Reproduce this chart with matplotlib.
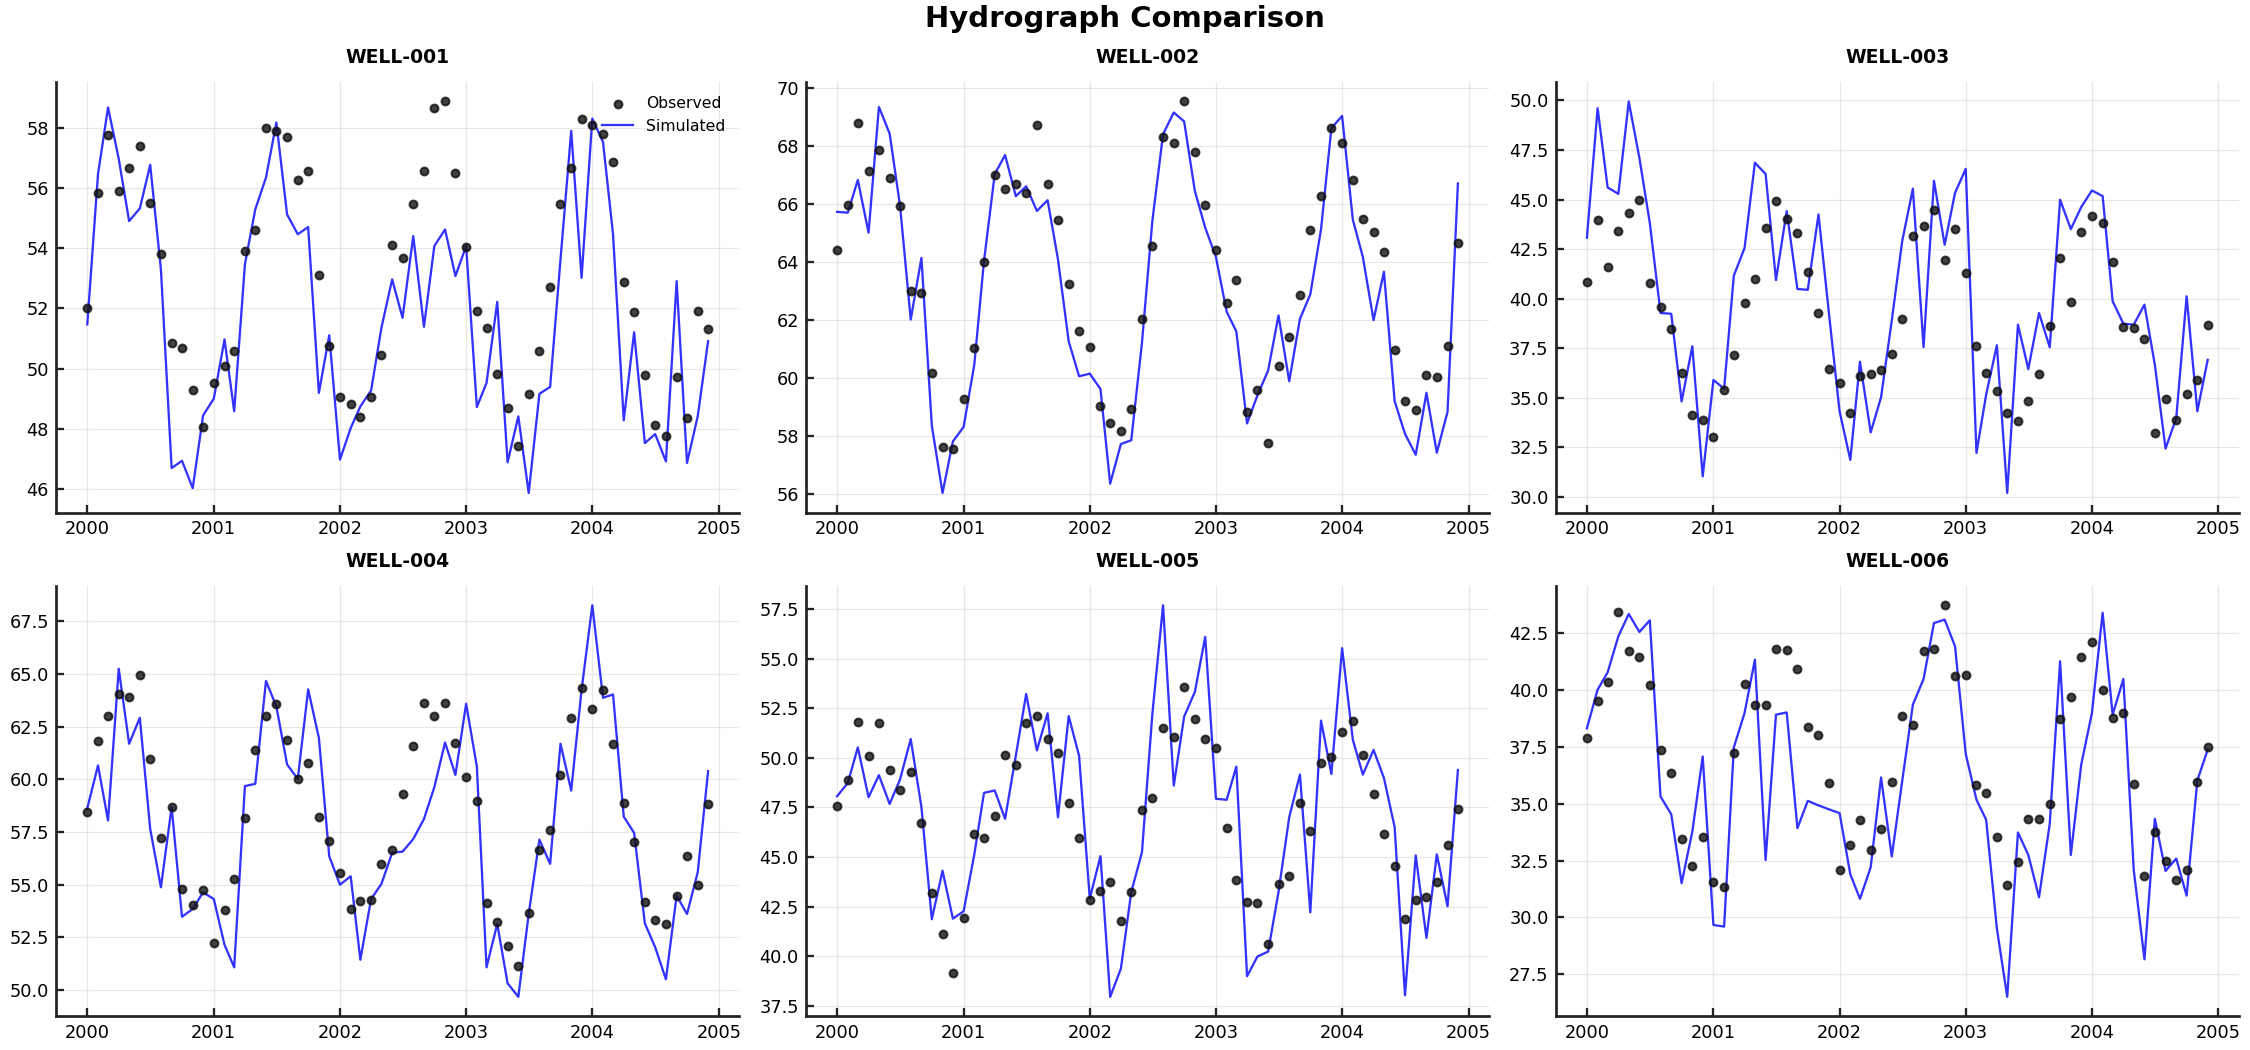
"""
Hydrograph comparison: observed vs simulated heads for six wells, monthly 2000-2004.
"""
import numpy as np
import pandas as pd
import matplotlib
matplotlib.use('Agg')
import matplotlib.pyplot as plt
import matplotlib.dates as mdates

WELLS = ['WELL-001', 'WELL-002', 'WELL-003', 'WELL-004', 'WELL-005', 'WELL-006']
DATES = pd.date_range('2000-01-01', periods=60, freq='MS')

OBS_001 = [52.0, 55.86, 57.76, 55.9, 56.69, 57.42, 55.5, 53.82, 50.86, 50.69, 49.3, 48.06,
           49.52, 50.09, 50.59, 53.92, 54.62, 58.02, 57.91, 57.72, 56.29, 56.56, 53.12, 50.76,
           49.06, 48.82, 48.39, 49.06, 50.46, 54.12, 53.69, 55.49, 56.59, 58.66, 58.89, 56.52,
           54.03, 51.92, 51.36, 49.82, 48.69, 47.43, 49.16, 50.59, 52.72, 55.49, 56.66, 58.32,
           58.12, 57.82, 56.86, 52.89, 51.89, 49.79, 48.13, 47.77, 49.72, 48.36, 51.92, 51.32]
SIM_001 = [51.47, 56.47, 58.69, 56.98, 54.91, 55.33, 56.78, 53.3, 46.69, 46.93, 46.02, 48.44,
           49.0, 50.97, 48.58, 53.47, 55.3, 56.36, 58.19, 55.13, 54.47, 54.71, 49.19, 51.11,
           46.97, 48.02, 48.74, 49.27, 51.36, 52.97, 51.69, 54.41, 51.39, 54.08, 54.63, 53.08,
           54.08, 48.72, 49.52, 52.22, 46.88, 48.41, 45.86, 49.16, 49.39, 53.63, 57.91, 53.02,
           58.32, 57.54, 54.47, 48.28, 51.21, 47.52, 47.82, 46.91, 52.91, 46.86, 48.41, 50.91]

OBS_002 = [64.40, 65.98, 68.78, 67.15, 67.87, 66.88, 65.94, 63.0, 62.91, 60.17, 57.61, 57.54,
           59.28, 61.03, 64.0, 67.01, 66.53, 66.68, 66.37, 68.72, 66.70, 65.46, 63.22, 61.63,
           61.07, 59.03, 58.44, 58.16, 58.93, 62.03, 64.56, 68.33, 68.09, 69.54, 67.78, 65.98,
           64.42, 62.59, 63.38, 58.82, 59.56, 57.75, 60.41, 61.41, 62.86, 65.11, 66.29, 68.61,
           68.12, 66.84, 65.49, 65.04, 64.35, 60.96, 59.21, 58.89, 60.10, 60.03, 61.10, 64.66]
SIM_002 = [65.73, 65.70, 66.83, 65.01, 69.35, 68.43, 65.95, 62.01, 64.14, 58.35, 56.02, 57.80,
           58.30, 60.46, 64.03, 67.03, 67.69, 66.27, 66.61, 65.76, 66.13, 64.09, 61.26, 60.05,
           60.14, 59.61, 56.34, 57.71, 57.84, 61.21, 65.41, 68.41, 69.16, 68.85, 66.45, 65.18,
           64.17, 62.28, 61.60, 58.42, 59.39, 60.25, 62.15, 59.88, 62.03, 62.88, 65.12, 68.62,
           69.04, 65.46, 64.17, 61.99, 63.66, 59.19, 58.06, 57.34, 59.48, 57.41, 58.82, 66.71]

OBS_003 = [40.84, 43.97, 41.60, 43.41, 44.32, 44.97, 40.79, 39.58, 38.47, 36.25, 34.15, 33.88,
           33.03, 35.39, 37.16, 39.78, 40.99, 43.58, 44.92, 44.03, 43.31, 41.34, 39.29, 36.47,
           35.75, 34.24, 36.12, 36.22, 36.40, 37.21, 38.97, 43.16, 43.66, 44.49, 41.95, 43.53,
           41.29, 37.61, 36.25, 35.34, 34.25, 33.83, 34.84, 36.20, 38.62, 42.05, 39.83, 43.38,
           44.17, 43.83, 41.85, 38.57, 38.52, 37.97, 33.23, 34.96, 33.88, 35.21, 35.92, 38.67]
SIM_003 = [43.08, 49.61, 45.61, 45.29, 49.95, 47.09, 43.82, 39.28, 39.24, 34.82, 37.60, 31.04,
           35.90, 35.46, 41.16, 42.55, 46.86, 46.29, 40.94, 44.42, 40.49, 40.45, 44.25, 39.3,
           34.32, 31.87, 36.82, 33.26, 35.03, 38.9, 42.89, 45.55, 37.56, 45.95, 42.72, 45.34,
           46.55, 32.22, 35.16, 37.65, 30.20, 38.69, 36.45, 39.28, 37.55, 44.99, 43.51, 44.62,
           45.46, 45.18, 39.87, 38.74, 38.69, 39.70, 36.67, 32.44, 33.98, 40.12, 34.32, 36.92]

OBS_004 = [58.44, 61.81, 63.0, 64.05, 63.90, 64.95, 60.96, 57.21, 58.68, 54.78, 54.04, 54.75,
           52.22, 53.78, 55.26, 58.16, 61.39, 63.0, 63.57, 61.88, 60.01, 60.78, 58.20, 57.06,
           55.54, 53.83, 54.21, 54.26, 55.97, 56.65, 59.30, 61.58, 63.62, 63.0, 63.62, 61.72,
           60.10, 58.96, 54.12, 53.21, 52.07, 51.16, 53.64, 56.64, 57.59, 60.20, 62.91, 64.33,
           63.33, 64.24, 61.67, 58.87, 57.01, 54.16, 53.31, 53.12, 54.45, 56.35, 54.97, 58.82]
SIM_004 = [58.63, 60.66, 58.05, 65.25, 61.69, 62.92, 57.65, 54.88, 58.68, 53.48, 53.85, 54.64,
           54.32, 52.15, 51.08, 59.68, 59.79, 64.67, 63.46, 60.71, 60.02, 64.27, 61.97, 56.35,
           55.0, 55.40, 51.44, 54.32, 55.04, 56.52, 56.57, 57.17, 58.12, 59.63, 61.75, 60.21,
           63.59, 60.61, 51.08, 53.14, 50.32, 49.68, 53.61, 57.14, 55.99, 61.69, 59.47, 64.25,
           68.26, 63.87, 64.03, 58.23, 57.46, 53.17, 52.03, 50.51, 54.48, 53.61, 55.59, 60.39]

OBS_005 = [47.56, 48.86, 51.78, 50.07, 51.73, 49.37, 48.36, 49.27, 46.70, 43.18, 41.12, 39.16,
           41.92, 46.15, 45.95, 47.05, 50.12, 49.64, 51.73, 52.08, 50.93, 50.22, 47.71, 45.95,
           42.83, 43.28, 43.73, 41.77, 43.23, 47.36, 47.96, 51.50, 51.03, 53.54, 51.93, 50.93,
           50.47, 46.45, 43.83, 42.73, 42.68, 40.62, 43.63, 44.04, 47.71, 46.30, 49.72, 50.02,
           51.28, 51.85, 50.12, 48.16, 46.15, 44.54, 41.87, 42.83, 42.98, 43.73, 45.60, 47.41]
SIM_005 = [48.06, 48.73, 50.52, 48.01, 49.12, 47.67, 48.90, 50.94, 47.51, 41.86, 44.30, 41.89,
           42.26, 45.13, 48.23, 48.35, 46.92, 50.10, 53.21, 50.37, 52.24, 47.0, 52.10, 50.10,
           42.90, 45.04, 37.95, 39.37, 43.23, 45.24, 52.20, 57.68, 48.60, 52.07, 53.32, 56.09,
           47.93, 47.88, 49.55, 38.99, 39.98, 40.23, 43.23, 47.0, 49.15, 42.21, 51.87, 49.18,
           55.52, 50.91, 49.15, 50.39, 48.98, 46.50, 38.03, 45.08, 40.92, 45.13, 42.51, 49.38]

OBS_006 = [37.88, 39.51, 40.34, 43.42, 41.71, 41.44, 40.21, 37.35, 36.34, 33.43, 32.28, 33.56,
           31.54, 31.36, 37.22, 40.27, 39.33, 39.33, 41.80, 41.75, 40.91, 38.38, 38.01, 35.90,
           32.11, 33.17, 34.27, 32.99, 33.87, 35.98, 38.85, 38.45, 41.71, 41.80, 43.73, 40.61,
           40.65, 35.81, 35.46, 33.56, 31.45, 32.42, 34.31, 34.31, 34.97, 38.71, 39.68, 41.44,
           42.10, 39.99, 38.76, 38.98, 35.85, 31.84, 33.74, 32.50, 31.67, 32.11, 35.94, 37.52]
SIM_006 = [38.32, 40.02, 40.78, 42.37, 43.35, 42.56, 43.07, 35.32, 34.54, 31.51, 33.78, 37.08,
           29.67, 29.60, 37.48, 38.99, 41.34, 32.53, 38.92, 39.02, 33.93, 35.13, 34.93, 34.76,
           34.59, 31.90, 30.82, 32.21, 36.16, 32.68, 35.98, 39.36, 40.49, 42.95, 43.10, 41.93,
           37.19, 35.18, 34.30, 29.52, 26.51, 33.74, 32.75, 30.89, 34.12, 41.27, 32.75, 36.72,
           38.99, 43.40, 38.92, 40.49, 32.09, 28.16, 34.34, 32.05, 32.59, 30.96, 36.03, 37.38]

OBSERVED = [OBS_001, OBS_002, OBS_003, OBS_004, OBS_005, OBS_006]
SIMULATED = [SIM_001, SIM_002, SIM_003, SIM_004, SIM_005, SIM_006]


def _style_axis(ax):
    ax.spines['top'].set_visible(False)
    ax.spines['right'].set_visible(False)
    for s in ('left', 'bottom'):
        ax.spines[s].set_linewidth(1.3)
        ax.spines[s].set_color('#222222')
    ax.tick_params(direction='in', length=4, width=1.1, labelsize=8.5, color='#222222')
    ax.grid(True, color='#dddddd', linewidth=0.6, alpha=0.7)
    ax.set_axisbelow(True)
    ax.xaxis.set_major_locator(mdates.YearLocator())
    ax.xaxis.set_major_formatter(mdates.DateFormatter('%Y'))


def main():
    fig, axes = plt.subplots(2, 3, figsize=(15, 7), dpi=150)
    fig.subplots_adjust(left=0.025, right=0.995, top=0.922, bottom=0.032,
                        wspace=0.098, hspace=0.17)

    for i, ax in enumerate(axes.flat):
        ax.scatter(DATES, OBSERVED[i], s=14, color='#111111', alpha=0.8,
                   label='Observed', zorder=3)
        ax.plot(DATES, SIMULATED[i], color='blue', alpha=0.8, linewidth=1.1,
                label='Simulated', zorder=2)
        ax.set_title(WELLS[i], fontsize=9, fontweight='bold', pad=9)
        _style_axis(ax)
        if i == 0:
            ax.legend(loc='upper right', frameon=False, fontsize=7.5)

    fig.suptitle('Hydrograph Comparison', fontsize=14, fontweight='bold', y=0.995)
    plt.savefig('out.png', dpi=150)
    print('Saved figure to out.png')


if __name__ == '__main__':
    main()
